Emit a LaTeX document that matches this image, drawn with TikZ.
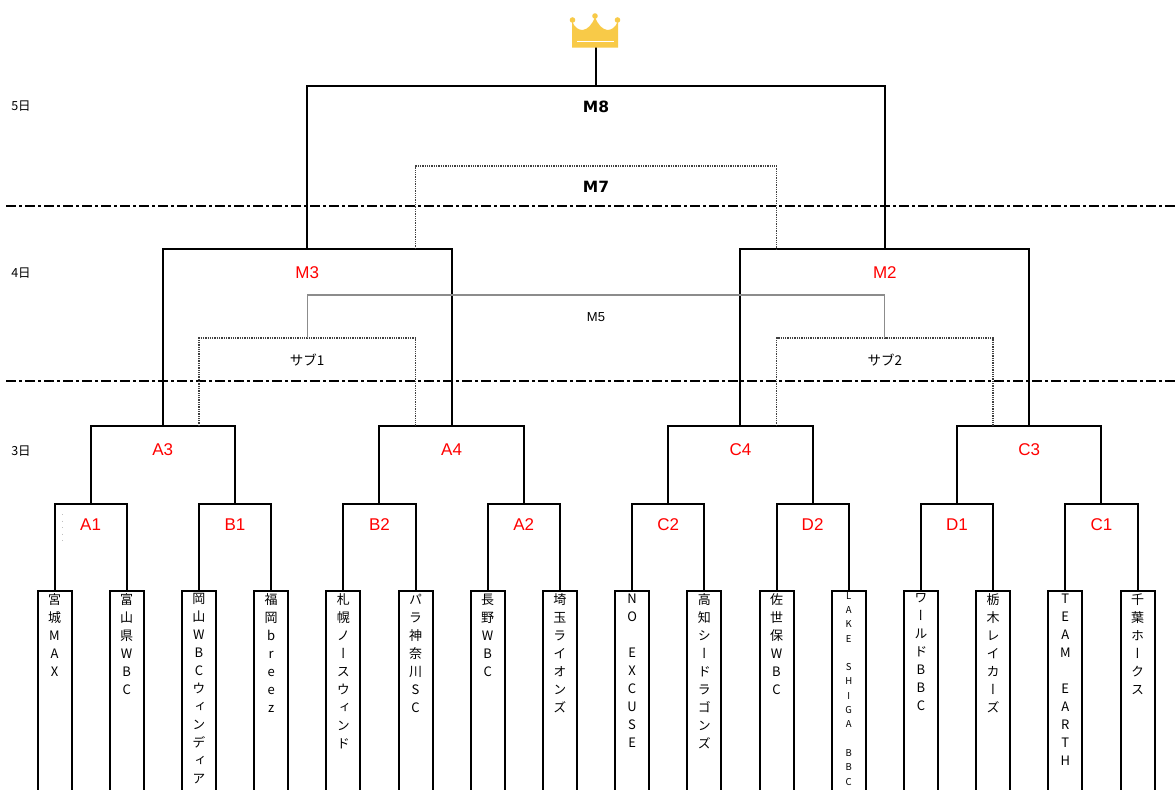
\documentclass[tikz,border=0pt]{standalone}
\usepackage{fontspec}
\setmainfont{Liberation Sans}
\newfontfamily\jp{Noto Sans CJK JP}
\newfontfamily\jpv[RawFeature=+vert]{Noto Sans CJK JP}
\newfontfamily\wide{DejaVu Sans}
\usetikzlibrary{positioning}
\definecolor{crowngold}{RGB}{248,202,72}
\definecolor{lightline}{RGB}{140,140,140}

\tikzset{
  bline/.style={line width=2pt},
  dotline/.style={draw=black!75, line width=1.3pt, densely dotted},
  grayline/.style={draw=lightline, line width=1.3pt},
  dayline/.style={line width=2.6pt, dash pattern=on 10pt off 3pt on 3pt off 3pt},
  team/.style={draw, line width=2pt, anchor=north, minimum width=34pt, minimum height=240pt, inner sep=0pt},
  tname/.style={anchor=north, align=center, inner sep=3.5pt, font=\jpv\fontsize{13}{18}\selectfont},
  tsmall/.style={anchor=north, align=center, inner sep=2pt, font=\jpv\fontsize{9.5}{14.3}\selectfont},
  rlab/.style={text=red, font=\fontsize{17}{17}\selectfont},
  blab/.style={font=\wide\bfseries\fontsize{15.5}{15.5}\selectfont},
  mlab/.style={font=\fontsize{13}{13}\selectfont},
  slab/.style={font=\jp\fontsize{13.5}{13.5}\selectfont},
  daylab/.style={font=\jp\fontsize{12.5}{12.5}\selectfont}
}

\begin{document}
\begin{tikzpicture}[x=1pt,y=-1pt]
    \useasboundingbox (0,0) rectangle (1176,790);

    \node[team] (t1) at (54.5,590) {};
    \node[team] (t2) at (126.7,590) {};
    \node[team] (t3) at (198.9,590) {};
    \node[team] (t4) at (271.1,590) {};
    \node[team] (t5) at (343.3,590) {};
    \node[team] (t6) at (415.5,590) {};
    \node[team] (t7) at (487.7,590) {};
    \node[team] (t8) at (559.9,590) {};
    \node[team] (t9) at (632.1,590) {};
    \node[team] (t10) at (704.3,590) {};
    \node[team] (t11) at (776.5,590) {};
    \node[team] (t12) at (848.7,590) {};
    \node[team] (t13) at (920.9,590) {};
    \node[team] (t14) at (993.1,590) {};
    \node[team] (t15) at (1065.3,590) {};
    \node[team] (t16) at (1137.5,590) {};

    \node[tname] (n1) at (t1.north) {宮\\城\\M\\A\\X};
    \node[tname] (n2) at (t2.north) {富\\山\\県\\W\\B\\C};
    \node[tname] (n3) at (t3.north) {岡\\山\\W\\B\\C\\ウ\\ィ\\ン\\デ\\ィ\\ア};
    \node[tname] (n4) at (t4.north) {福\\岡\\b\\r\\e\\e\\z};
    \node[tname] (n5) at (t5.north) {札\\幌\\ノ\\ー\\ス\\ウ\\ィ\\ン\\ド};
    \node[tname] (n6) at (t6.north) {パ\\ラ\\神\\奈\\川\\S\\C};
    \node[tname] (n7) at (t7.north) {長\\野\\W\\B\\C};
    \node[tname] (n8) at (t8.north) {埼\\玉\\ラ\\イ\\オ\\ン\\ズ};
    \node[tname] (n9) at (t9.north) {N\\O\\[18pt]E\\X\\C\\U\\S\\E};
    \node[tname] (n10) at (t10.north) {高\\知\\シ\\ー\\ド\\ラ\\ゴ\\ン\\ズ};
    \node[tname] (n11) at (t11.north) {佐\\世\\保\\W\\B\\C};
    \node[tsmall] (n12) at (t12.north) {L\\A\\K\\E\\[14.3pt]S\\H\\I\\G\\A\\[14.3pt]B\\B\\C};
    \node[tname] (n13) at (t13.north) {ワ\\ー\\ル\\ド\\B\\B\\C};
    \node[tname] (n14) at (t14.north) {栃\\木\\レ\\イ\\カ\\ー\\ズ};
    \node[tname] (n15) at (t15.north) {T\\E\\A\\M\\[18pt]E\\A\\R\\T\\H};
    \node[tname] (n16) at (t16.north) {千\\葉\\ホ\\ー\\ク\\ス};

    \coordinate (a1) at (90.6,504);
    \coordinate (b1) at (235,504);
    \coordinate (b2) at (379.4,504);
    \coordinate (a2) at (523.8,504);
    \coordinate (c2) at (668.2,504);
    \coordinate (d2) at (812.6,504);
    \coordinate (d1) at (957,504);
    \coordinate (c1) at (1101.4,504);
    \coordinate (a3) at (162.8,426);
    \coordinate (a4) at (451.6,426);
    \coordinate (c4) at (740.4,426);
    \coordinate (c3) at (1029.2,426);
    \coordinate (m3) at (307.2,249);
    \coordinate (m2) at (884.8,249);
    \coordinate (m8) at (596,86);
    \coordinate (m7) at (596,166);
    \coordinate (m5) at (596,295);
    \coordinate (s1) at (307.2,338);
    \coordinate (s2) at (884.8,338);
    \coordinate (crown) at (596,47);

    \draw[dayline] (6,206) -- (1176,206);
    \draw[dayline] (6,381) -- (1176,381);

    \draw[bline] (t1.north) |- (a1) -| (t2.north);
    \draw[bline] (t3.north) |- (b1) -| (t4.north);
    \draw[bline] (t5.north) |- (b2) -| (t6.north);
    \draw[bline] (t7.north) |- (a2) -| (t8.north);
    \draw[bline] (t9.north) |- (c2) -| (t10.north);
    \draw[bline] (t11.north) |- (d2) -| (t12.north);
    \draw[bline] (t13.north) |- (d1) -| (t14.north);
    \draw[bline] (t15.north) |- (c1) -| (t16.north);
    \draw[bline] (a1) |- (a3) -| (b1);
    \draw[bline] (b2) |- (a4) -| (a2);
    \draw[bline] (c2) |- (c4) -| (d2);
    \draw[bline] (d1) |- (c3) -| (c1);
    \draw[bline] (a3) |- (m3) -| (a4);
    \draw[bline] (c4) |- (m2) -| (c3);
    \draw[bline] (m3) |- (m8) -| (m2);
    \draw[bline] (m8) -- (crown);

    \draw[dotline] (t6.north |- m3) |- (m7) -| (t11.north |- m2);
    \draw[dotline] (t3.north |- a3) |- (s1) -| (t6.north |- a4);
    \draw[dotline] (t11.north |- c4) |- (s2) -| (t14.north |- c3);
    \draw[grayline] (s1) |- (m5) -| (s2);
    \draw[gray!50, line width=1.2pt, dash pattern=on 1pt off 5.5pt] (62.7,514) -- (62.7,543);

    \fill[crowngold] (572,47.5) -- (572,21) .. controls (577,34) and (589,33) .. (595,17)
        .. controls (601,33) and (613,34) .. (618,21) -- (618,47.5) -- cycle;
    \fill[crowngold] (572.5,20) circle (2.8) (595,16) circle (2.8) (617.5,20) circle (2.8);
    \draw[white, line width=1.5pt] (577,41.5) -- (614,41.5);

    \node[rlab] (A1) at (90.6,525) {A1};
    \node[rlab] (B1) at (235,525) {B1};
    \node[rlab] (B2) at (379.4,525) {B2};
    \node[rlab] (A2) at (523.8,525) {A2};
    \node[rlab] (C2) at (668.2,525) {C2};
    \node[rlab] (D2) at (812.6,525) {D2};
    \node[rlab] (D1) at (957,525) {D1};
    \node[rlab] (C1) at (1101.4,525) {C1};
    \node[rlab] (A3) at (162.8,450) {A3};
    \node[rlab] (A4) at (451.6,450) {A4};
    \node[rlab] (C4) at (740.4,450) {C4};
    \node[rlab] (C3) at (1029.2,450) {C3};
    \node[rlab] (M3) at (307.2,273) {M3};
    \node[rlab] (M2) at (884.8,273) {M2};
    \node[blab] (M8) at (596,107) {M8};
    \node[blab] (M7) at (596,187) {M7};
    \node[mlab] (M5) at (596,317) {M5};
    \node[slab] (S1) at (307.2,360) {サブ1};
    \node[slab] (S2) at (884.8,360) {サブ2};
    \node[daylab] (d5) at (21,106) {5日};
    \node[daylab] (d4) at (21,273) {4日};
    \node[daylab] (d3) at (21,451) {3日};
\end{tikzpicture}
\end{document}
